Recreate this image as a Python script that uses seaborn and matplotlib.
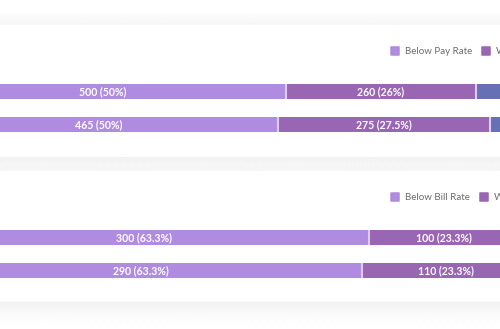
import numpy as np
import pandas as pd
import matplotlib
matplotlib.use("Agg")
import matplotlib.pyplot as plt
from matplotlib.lines import Line2D
from matplotlib.markers import MarkerStyle
import seaborn as sns

# ---- data -------------------------------------------------------------
rows = ["Current", "Previous"]

pay_categories = ["Below Pay Rate", "Within Pay Rate", "Above Pay Rate"]
pay_below = [500, 465]
pay_within = [260, 275]
pay_above = [240, 210]
pay_below_pct = ["50%", "50%"]
pay_within_pct = ["26%", "27.5%"]

bill_categories = ["Below Bill Rate", "Within Bill Rate", "Above Bill Rate"]
bill_below = [300, 290]
bill_within = [100, 110]
bill_above = [89, 80]
bill_below_pct = ["63.3%", "63.3%"]
bill_within_pct = ["23.3%", "23.3%"]

colors = ["#b08ce1", "#9966b3", "#6670b5"]
separator = "#dccdf0"

# ---- figure -----------------------------------------------------------
W_PX, H_PX, DPI = 500, 329, 100
sns.set_theme(style="white")
plt.rcParams["font.family"] = ["Lato", "DejaVu Sans"]

fig = plt.figure(figsize=(W_PX / DPI, H_PX / DPI), dpi=DPI)
fig.patch.set_facecolor("white")

# page background with soft card shadows
bg = fig.add_axes([0, 0, 1, 1], zorder=-5)
bg.set_axis_off()
ys = np.arange(H_PX) + 0.5
stops_y = [0, 12, 24.9, 25, 157, 157.1, 164, 170.9, 171, 302, 302.1, 310, 320, 329]
stops_v = [255, 254, 246, 255, 255, 242, 245, 246, 255, 255, 240, 247, 253, 255]
prof = np.interp(ys, stops_y, stops_v) / 255.0
img = np.repeat(prof[:, None], 2, axis=1)
bg.imshow(img, cmap="gray", vmin=0, vmax=1, aspect="auto",
          extent=[0, W_PX, H_PX, 0], interpolation="bilinear")
bg.set_xlim(0, W_PX)
bg.set_ylim(H_PX, 0)

# horizontal extent of the bar area (wider than the visible page)
X0_PX, BAR_W_PX = -80.3, 732.0
ROW_GAP_PX, FIRST_ROW_PX, BAR_H_PX = 33.0, 66.5, 15.0


def stacked_panel(card_top, card_bottom, below, within, above,
                  below_pct, within_pct, categories, legend_y):
    card_h = card_bottom - card_top
    ax = fig.add_axes([X0_PX / W_PX, 1 - card_bottom / H_PX,
                       BAR_W_PX / W_PX, card_h / H_PX])
    df = pd.DataFrame({"row": rows, "below": below, "within": within, "above": above})
    total = df[["below", "within", "above"]].sum(axis=1)
    df["c1"] = df["below"] / total
    df["c2"] = (df["below"] + df["within"]) / total
    df["c3"] = (df["below"] + df["within"] + df["above"]) / total

    width = BAR_H_PX / ROW_GAP_PX
    for col, colr in zip(["c3", "c2", "c1"], colors[::-1]):
        sns.barplot(data=df, x=col, y="row", color=colr, orient="h",
                    width=width, linewidth=0, errorbar=None, saturation=1, ax=ax)

    # thin light separators between segments
    for i in range(len(df)):
        for col in ["c1", "c2"]:
            ax.vlines(df.loc[i, col], i - width / 2, i + width / 2,
                      color=separator, lw=1.5, zorder=5)

    # value labels
    for i in range(len(df)):
        ax.text(df.loc[i, "c1"] / 2, i, f"{below[i]} ({below_pct[i]})",
                ha="center", va="center", color="white", fontsize=7.6,
                fontweight="bold", zorder=6)
        ax.text((df.loc[i, "c1"] + df.loc[i, "c2"]) / 2, i,
                f"{within[i]} ({within_pct[i]})",
                ha="center", va="center", color="white", fontsize=7.6,
                fontweight="bold", zorder=6)

    ax.set_xlim(0, 1)
    top = -FIRST_ROW_PX / ROW_GAP_PX
    bottom = (len(rows) - 1) + (card_h - FIRST_ROW_PX - ROW_GAP_PX * (len(rows) - 1)) / ROW_GAP_PX
    ax.set_ylim(bottom, top)
    ax.set_axis_off()

    handles = [Line2D([], [], ls="", marker=MarkerStyle("s", joinstyle="round"),
                      ms=5.6, mfc=c, mec=c, mew=1.1) for c in colors]
    ax.legend(handles, categories, loc="center left",
              bbox_to_anchor=(390.5 / W_PX, 1 - legend_y / H_PX),
              bbox_transform=fig.transFigure, ncol=3, frameon=False,
              borderpad=0, borderaxespad=0, handlelength=0.9,
              handletextpad=0.55, columnspacing=1.05, fontsize=7,
              labelcolor="#6b6b6b")
    return ax


stacked_panel(25, 157, pay_below, pay_within, pay_above,
              pay_below_pct, pay_within_pct, pay_categories, 51.5)
stacked_panel(171, 302, bill_below, bill_within, bill_above,
              bill_below_pct, bill_within_pct, bill_categories, 197.5)

fig.savefig("out.png", dpi=DPI)
